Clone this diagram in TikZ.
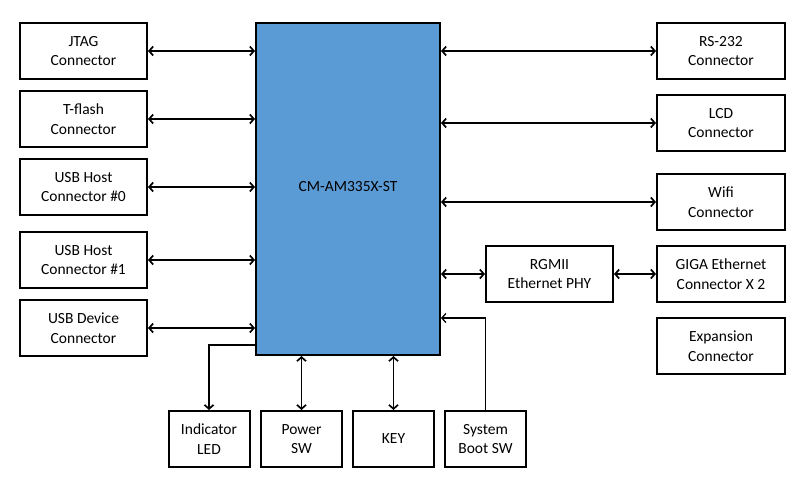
\documentclass[tikz,border=0pt]{standalone}
\usepackage{fontspec}
\setmainfont{Carlito}
\usetikzlibrary{arrows.meta}
\definecolor{cmblue}{HTML}{5B9BD5}
\begin{document}
\begin{tikzpicture}[x=1pt,y=-1pt,
  every node/.style={font=\fontsize{15.5}{19.5}\selectfont, align=center, inner sep=0pt},
  blk/.style={draw, line width=2pt, minimum width=127pt, minimum height=56pt},
  sblk/.style={draw, line width=2pt, minimum width=81pt, minimum height=56pt},
  conn/.style={line width=1.7pt, {Straight Barb[length=4pt,width=9pt]}-{Straight Barb[length=4pt,width=9pt]}},
  oneway/.style={line width=1.7pt, -{Straight Barb[length=4pt,width=9pt]}},
  thinway/.style={line width=1.3pt, -{Straight Barb[length=4pt,width=9pt]}}]
\useasboundingbox (0,0) rectangle (801,488);
\node[draw, line width=2pt, fill=cmblue, minimum width=184pt, minimum height=332pt] (cm) at (348,189) {};
\node (cmlabel) at (348,187) {CM-AM335X-ST};
% left
\node[blk] (jtag) at (83.5,51) {JTAG\\Connector};
\node[blk] (tflash) at (83.5,119) {T-flash\\Connector};
\node[blk] (usb0) at (83.5,187) {USB Host\\Connector \#0};
\node[blk] (usb1) at (83.5,260) {USB Host\\Connector \#1};
\node[blk] (usbd) at (83.5,328) {USB Device\\Connector};
% right
\node[blk, minimum width=128pt] (rs) at (721,51) {RS-232\\Connector};
\node[blk, minimum width=128pt] (lcd) at (721,123) {LCD\\Connector};
\node[blk, minimum width=128pt] (wifi) at (721,202) {Wifi\\Connector};
\node[blk, minimum width=128pt] (giga) at (721,274) {GIGA Ethernet\\Connector X 2};
\node[blk, minimum width=128pt] (exp) at (721,346) {Expansion\\Connector};
\node[blk] (phy) at (549.5,274) {RGMII\\Ethernet PHY};
% bottom
\node[sblk] (led) at (209,439) {Indicator\\LED};
\node[sblk] (pwr) at (301.5,439) {Power\\SW};
\node[sblk] (key) at (393.5,439) {KEY};
\node[sblk] (boot) at (485.5,439) {System\\Boot SW};
% connectors
\foreach \n in {jtag,tflash,usb0,usb1,usbd}
  \draw[conn] (\n.east) -- (cm.west |- \n.east);
\foreach \n in {rs,lcd,wifi}
  \draw[conn] (cm.east |- \n.west) -- (\n.west);
\draw[conn] (cm.east |- phy.west) -- (phy.west);
\draw[conn] (phy.east) -- (giga.west);
\draw[conn] (cm.south -| pwr.north) -- (pwr.north);
\draw[conn] (cm.south -| key.north) -- (key.north);
\coordinate (ledturn) at (209,345);
\draw[oneway] (cm.west |- ledturn) -- (ledturn) -- (led.north);
\coordinate (bootturn) at (485.5,318);
\draw[thinway] (boot.north) -- (bootturn) -- (cm.east |- bootturn);
\end{tikzpicture}
\end{document}
